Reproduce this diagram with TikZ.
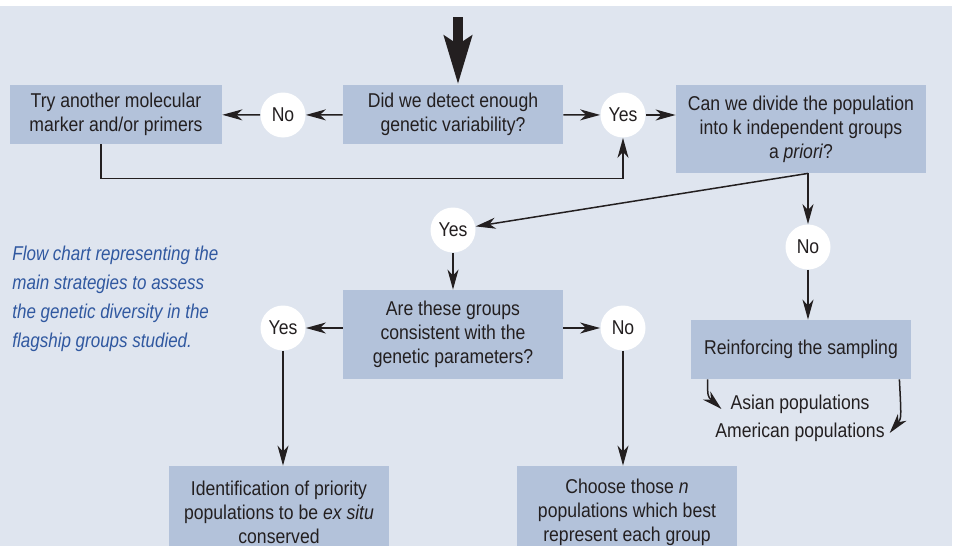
\documentclass[tikz,border=0pt]{standalone}
\usepackage{fontspec}
\setmainfont{Liberation Sans}[FakeStretch=0.88]
\newfontfamily\captionfont{Liberation Sans}[FakeStretch=0.85]
\usepackage{tikz}
\usetikzlibrary{arrows.meta}

\definecolor{bgblue}{RGB}{223,229,239}
\definecolor{boxblue}{RGB}{179,194,218}
\definecolor{capblue}{RGB}{48,88,160}
\definecolor{ink}{RGB}{35,31,32}

\begin{document}
\begin{tikzpicture}[x=0.5pt, y=-0.5pt, font=\fontsize{10}{12}\selectfont, text=ink,
    box/.style={fill=boxblue, align=center, inner sep=0pt},
    answer/.style={circle, fill=white, minimum size=22.5pt, inner sep=0pt},
    link/.style={draw=ink, line width=0.75pt, -{Stealth[length=10pt, width=5.5pt, inset=3pt]}}]

    \useasboundingbox (0,0) rectangle (960,546);
    \clip (0,0) rectangle (960,546);
    \fill[bgblue] (0,6) rectangle (952,546);

    % first question
    \node[box, minimum width=110pt, minimum height=29.5pt] (detect) at (453,114.5) {Did we detect enough\\genetic variability?};
    \node[answer] (no1) at (283,115) {No};
    \node[answer] (yes1) at (623,115) {Yes};
    \node[box, minimum width=106pt, minimum height=29.5pt] (try) at (116,114.5) {Try another molecular\\marker and/or primers};
    \node[box, minimum width=125pt, minimum height=44pt] (divide) at (801,129) {Can we divide the population\\into k independent groups\\a \textit{priori}?};

    % second question
    \node[answer] (yes2) at (453,230) {Yes};
    \node[answer] (no2) at (808,247) {No};
    \node[box, minimum width=110pt, minimum height=44.5pt] (are) at (453,334.5) {Are these groups\\consistent with the\\genetic parameters?};
    \node[answer] (yes3) at (283,328) {Yes};
    \node[answer] (no3) at (623,328) {No};
    \node[box, minimum width=110pt, minimum height=29.5pt] (reinforce) at (801,349.5) {Reinforcing the sampling};
    \node (asian) at (800,404) {Asian populations};
    \node (american) at (800,432) {American populations};

    % results
    \node[box, minimum width=110pt, minimum height=46pt] (ident) at (279,512) {Identification of priority\\populations to be \textit{ex situ}\\conserved};
    \node[box, minimum width=110pt, minimum height=46pt] (choose) at (627,512) {Choose those \textit{n}\\populations which best\\represent each group};

    \node[anchor=north west, align=left, inner sep=0pt, text=capblue, font=\captionfont\itshape\fontsize{10}{14.5}\selectfont] (caption) at (12,246) {Flow chart representing the\\main strategies to assess\\the genetic diversity in the\\flagship groups studied.};

    % connectors
    \coordinate (start) at (458,17);
    \draw[draw=ink, line width=5pt, -{Stealth[length=24pt, width=13.5pt, inset=4pt]}] (start) -- (start |- detect.north);
    \draw[link] (detect) -- (no1);
    \draw[link] (no1) -- (try);
    \draw[link] (detect) -- (yes1);
    \draw[link] (yes1) -- (divide.west |- yes1);
    \draw[link] ([xshift=-7.5pt]try.south) -- ++(0,34) -| (yes1);
    \draw[link] (divide.south -| no2) -- (yes2);
    \draw[link] (divide.south -| no2) -- (no2);
    \draw[link] (no2) -- (no2 |- reinforce.north);
    \draw[link] (yes2) -- (are);
    \draw[link] (are.west |- yes3) -- (yes3);
    \draw[link] (are.east |- no3) -- (no3);
    \draw[link] (yes3) -- (yes3 |- ident.north);
    \draw[link] (no3) -- (no3 |- choose.north);
    \draw[link] ([xshift=8.5pt]reinforce.south west) .. controls +(0,17) .. ([xshift=-1pt,yshift=-2.5pt]asian.west);
    \draw[link] ([xshift=-6pt]reinforce.south east) .. controls +(2,39) .. ([xshift=-1pt,yshift=-0.5pt]american.east);
\end{tikzpicture}
\end{document}
